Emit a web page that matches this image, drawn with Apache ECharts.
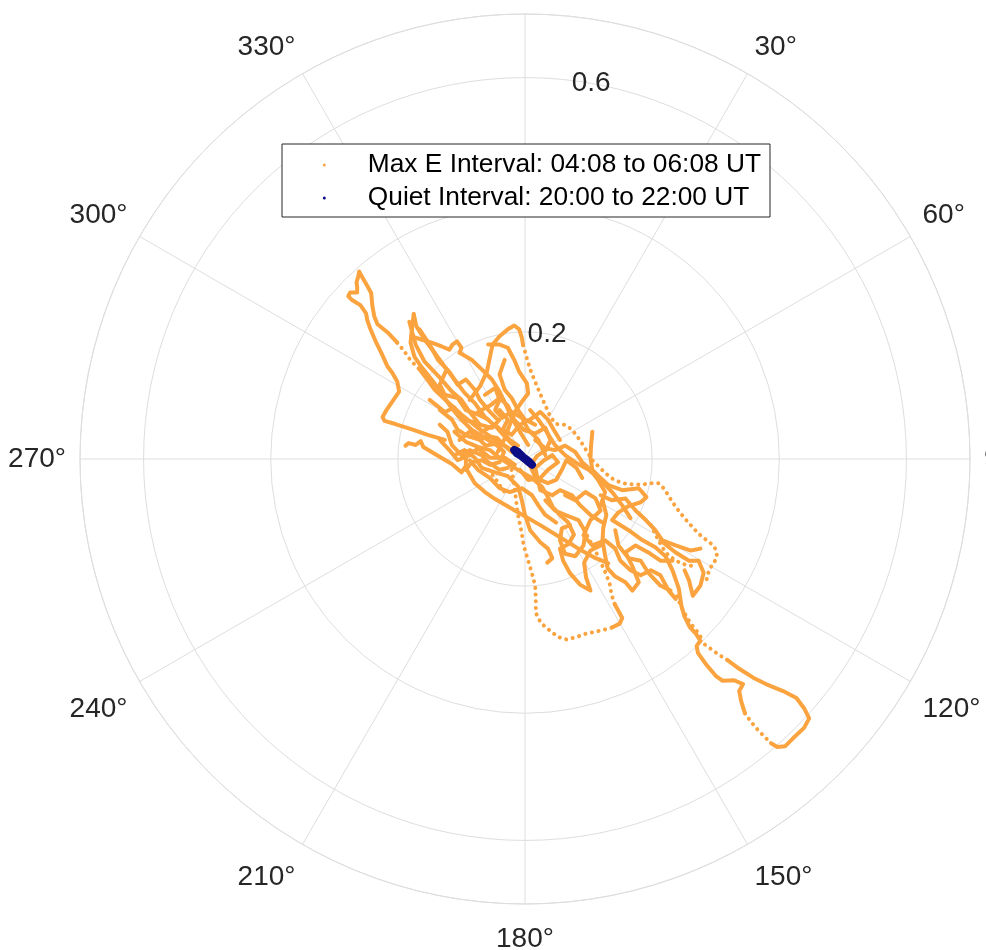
<!DOCTYPE html>
<html>
<head>
<meta charset="utf-8">
<style>
  html, body { margin: 0; padding: 0; background: #ffffff; }
  #chart { width: 986px; height: 950px; }
</style>
<script src="https://cdn.jsdelivr.net/npm/echarts@6/dist/echarts.min.js"></script>
</head>
<body>
<div id="chart"></div>
<script>
// Field direction traces, each point stored as [east, north] components.
// Continuous (densely sampled) sections of the Max E interval.
const maxETracks = [
  [[-0.126,0.030],[-0.153,0.038],[-0.179,0.047],[-0.204,0.055],[-0.221,0.060],[-0.224,0.066],[-0.218,0.077],[-0.209,0.090],[-0.198,0.106],[-0.201,0.122],[-0.209,0.136],[-0.216,0.145],[-0.226,0.167],[-0.234,0.183],[-0.243,0.204],[-0.248,0.218],[-0.250,0.229],[-0.259,0.242],[-0.272,0.250],[-0.278,0.256],[-0.275,0.262],[-0.264,0.262],[-0.264,0.270],[-0.265,0.278],[-0.262,0.288],[-0.261,0.295],[-0.256,0.286],[-0.248,0.272],[-0.242,0.261],[-0.240,0.240],[-0.237,0.224],[-0.232,0.212],[-0.216,0.199],[-0.201,0.183]],
  [[-0.166,0.141],[-0.156,0.128],[-0.142,0.109],[-0.122,0.090],[-0.100,0.070],[-0.074,0.049],[-0.047,0.030],[-0.024,0.016]],
  [[-0.188,0.021],[-0.183,0.025],[-0.172,0.022],[-0.164,0.028],[-0.160,0.019],[-0.137,0.005],[-0.115,-0.008],[-0.100,-0.021],[-0.093,-0.011],[-0.093,0.002],[-0.100,0.011]],
  [[-0.093,-0.014],[-0.079,-0.038],[-0.063,-0.052],[-0.047,-0.063],[-0.016,-0.081],[0.024,-0.104],[0.055,-0.123],[0.084,-0.141],[0.111,-0.156],[0.131,-0.164]],
  [[-0.175,0.228],[-0.177,0.212],[-0.180,0.183],[-0.174,0.161],[-0.163,0.145],[-0.147,0.125],[-0.131,0.104],[-0.119,0.085],[-0.103,0.065],[-0.084,0.046],[-0.058,0.030],[-0.040,0.019]],
  [[-0.175,0.228],[-0.171,0.209],[-0.158,0.188],[-0.142,0.167],[-0.126,0.145],[-0.111,0.125],[-0.095,0.104],[-0.079,0.088],[-0.063,0.066],[-0.044,0.049],[-0.027,0.030],[-0.011,0.014]],
  [[-0.179,0.193],[-0.163,0.188],[-0.147,0.183],[-0.131,0.177],[-0.119,0.172],[-0.114,0.180],[-0.107,0.185],[-0.100,0.175],[-0.103,0.167],[-0.084,0.156],[-0.068,0.141],[-0.052,0.125],[-0.040,0.106],[-0.030,0.085],[-0.021,0.065],[-0.008,0.043],[0.005,0.022]],
  [[-0.182,0.216],[-0.172,0.180],[-0.158,0.153],[-0.134,0.128],[-0.115,0.106],[-0.100,0.093],[-0.087,0.074],[-0.071,0.054],[-0.052,0.049],[-0.040,0.062]],
  [[-0.087,0.093],[-0.071,0.114],[-0.060,0.137],[-0.055,0.161],[-0.051,0.180],[-0.040,0.193],[-0.027,0.204],[-0.017,0.210],[-0.009,0.204],[-0.005,0.191],[-0.003,0.179]],
  [[-0.058,0.180],[-0.040,0.180],[-0.027,0.175],[-0.017,0.156],[-0.009,0.137],[0.003,0.119],[0.005,0.103],[-0.005,0.090],[-0.016,0.074],[-0.024,0.054],[-0.033,0.030],[-0.043,0.011]],
  [[-0.134,0.077],[-0.115,0.062],[-0.106,0.046],[-0.090,0.036],[-0.071,0.030],[-0.058,0.036],[-0.044,0.033],[-0.032,0.021],[-0.021,0.011]],
  [[-0.111,0.043],[-0.093,0.027],[-0.074,0.019],[-0.055,0.014],[-0.040,0.002],[-0.024,-0.009],[-0.005,-0.021],[0.011,-0.030],[0.027,-0.044],[0.036,-0.060],[0.044,-0.076],[0.055,-0.088],[0.068,-0.100],[0.077,-0.119],[0.068,-0.134],[0.055,-0.141],[0.060,-0.160],[0.071,-0.180],[0.087,-0.198],[0.103,-0.207],[0.096,-0.186],[0.093,-0.163],[0.103,-0.144],[0.119,-0.136]],
  [[-0.074,0.074],[-0.055,0.084],[-0.040,0.096],[-0.027,0.084],[-0.017,0.062],[-0.002,0.046],[0.016,0.040],[0.032,0.049],[0.040,0.030],[0.033,0.014],[0.019,0.005],[0.008,-0.011],[0.017,-0.030],[0.036,-0.038],[0.049,-0.033],[0.058,-0.017],[0.065,-0.002],[0.081,-0.014],[0.090,-0.030]],
  [[-0.111,0.006],[-0.095,0.014],[-0.079,0.002],[-0.068,-0.014],[-0.047,-0.021],[-0.027,-0.027],[-0.011,-0.043],[-0.005,-0.065],[0.000,-0.088],[0.008,-0.112],[0.024,-0.131],[0.036,-0.141],[0.043,-0.156],[0.035,-0.163]],
  [[0.008,0.077],[0.021,0.062],[0.032,0.046],[0.047,0.022],[0.063,0.006],[0.079,-0.005],[0.100,-0.017],[0.119,-0.033],[0.137,-0.052],[0.153,-0.073],[0.166,-0.093]],
  [[0.106,0.043],[0.104,0.022],[0.103,0.002],[0.106,-0.017],[0.119,-0.030],[0.131,-0.041],[0.153,-0.049],[0.179,-0.046],[0.191,-0.060],[0.182,-0.068],[0.163,-0.074],[0.147,-0.084],[0.137,-0.096],[0.163,-0.112],[0.185,-0.128],[0.205,-0.139],[0.221,-0.153],[0.232,-0.175],[0.242,-0.204],[0.246,-0.231],[0.251,-0.248],[0.259,-0.264],[0.269,-0.275],[0.276,-0.286]],
  [[0.122,-0.065],[0.128,-0.088],[0.123,-0.109],[0.122,-0.128],[0.126,-0.152],[0.130,-0.172],[0.142,-0.185],[0.158,-0.194],[0.169,-0.207],[0.179,-0.194],[0.169,-0.169],[0.158,-0.147],[0.174,-0.136],[0.194,-0.147],[0.213,-0.160],[0.232,-0.160]],
  [[0.213,-0.128],[0.237,-0.147],[0.258,-0.160],[0.273,-0.160],[0.281,-0.179],[0.276,-0.199],[0.264,-0.215],[0.258,-0.191],[0.251,-0.175]],
  [[0.276,-0.286],[0.270,-0.294],[0.272,-0.305],[0.284,-0.322],[0.300,-0.341],[0.311,-0.349],[0.329,-0.348],[0.343,-0.354],[0.337,-0.365],[0.340,-0.381],[0.346,-0.400]],
  [[0.387,-0.447],[0.397,-0.453],[0.409,-0.452],[0.422,-0.439],[0.439,-0.423],[0.447,-0.408],[0.439,-0.392],[0.427,-0.376],[0.406,-0.365],[0.379,-0.354],[0.359,-0.344],[0.337,-0.330],[0.318,-0.316]],
  [[0.137,-0.265],[0.149,-0.259],[0.153,-0.250],[0.147,-0.239],[0.141,-0.228]],
  [[-0.150,0.093],[-0.126,0.074],[-0.111,0.081],[-0.100,0.062],[-0.079,0.058],[-0.068,0.043],[-0.047,0.054],[-0.035,0.043],[-0.024,0.030],[-0.011,0.021]],
  [[-0.103,0.030],[-0.087,0.043],[-0.074,0.033],[-0.062,0.021],[-0.046,0.024],[-0.033,0.011],[-0.040,-0.005],[-0.055,-0.009],[-0.068,-0.002],[-0.084,-0.005],[-0.093,-0.017]],
  [[-0.008,-0.017],[0.005,-0.033],[0.024,-0.030],[0.036,-0.017],[0.052,-0.005],[0.043,0.006],[0.030,-0.002],[0.016,-0.014],[0.024,-0.049],[0.043,-0.057],[0.055,-0.049],[0.074,-0.057],[0.087,-0.073],[0.103,-0.088],[0.122,-0.100]],
  [[-0.040,0.077],[-0.027,0.062],[-0.035,0.046],[-0.021,0.038],[-0.008,0.054],[0.008,0.062],[0.024,0.074],[0.036,0.062],[0.047,0.043],[0.055,0.030]],
  [[-0.134,0.054],[-0.122,0.043],[-0.115,0.022],[-0.100,0.006],[-0.087,0.014],[-0.068,0.006],[-0.058,-0.005],[-0.040,-0.017],[-0.027,-0.014]],
  [[0.063,-0.057],[0.079,-0.065],[0.095,-0.052],[0.111,-0.062],[0.119,-0.081],[0.103,-0.096],[0.092,-0.120],[0.106,-0.136],[0.126,-0.128],[0.142,-0.141],[0.150,-0.160],[0.166,-0.175],[0.182,-0.183],[0.198,-0.175],[0.213,-0.183],[0.226,-0.207],[0.237,-0.220]],
  [[-0.166,0.204],[-0.150,0.180],[-0.137,0.156],[-0.119,0.137],[-0.106,0.117],[-0.093,0.125],[-0.079,0.109],[-0.071,0.093],[-0.055,0.074],[-0.043,0.062]],
  [[-0.125,0.137],[-0.134,0.117],[-0.126,0.101],[-0.106,0.096],[-0.093,0.077],[-0.074,0.070],[-0.058,0.062]],
  [[-0.032,0.156],[-0.040,0.133],[-0.032,0.109],[-0.021,0.096],[-0.011,0.077],[0.000,0.062],[0.016,0.054]],
  [[0.016,0.030],[0.032,0.017],[0.047,0.014],[0.063,0.021],[0.079,0.011],[0.090,-0.005],[0.103,-0.017],[0.115,-0.033],[0.126,-0.052],[0.119,-0.073]],
  [[0.032,-0.065],[0.047,-0.081],[0.063,-0.088],[0.084,-0.096],[0.095,-0.115],[0.092,-0.136],[0.079,-0.153],[0.063,-0.149],[0.055,-0.128],[0.058,-0.109],[0.071,-0.104]],
  [[-0.087,-0.002],[-0.074,-0.017],[-0.055,-0.030],[-0.040,-0.046],[-0.024,-0.052],[-0.005,-0.046],[0.011,-0.057],[0.021,-0.073],[0.032,-0.088],[0.049,-0.100]],
  [[-0.063,0.101],[-0.047,0.112],[-0.040,0.093],[-0.047,0.077],[-0.036,0.065],[-0.021,0.074],[-0.005,0.065],[0.005,0.046],[0.021,0.030],[0.032,0.006]],
  [[-0.134,0.030],[-0.119,0.014],[-0.106,-0.002],[-0.087,0.006],[-0.074,0.017],[-0.055,0.002],[-0.032,0.002],[-0.016,-0.009]],
  [[0.119,-0.057],[0.137,-0.065],[0.158,-0.062],[0.174,-0.081],[0.190,-0.096],[0.205,-0.112],[0.216,-0.128],[0.237,-0.136],[0.261,-0.144],[0.276,-0.141]],
  [[0.142,-0.112],[0.147,-0.136],[0.163,-0.156],[0.182,-0.160],[0.194,-0.179],[0.213,-0.199],[0.229,-0.207]]
];

// Sparsely sampled sections of the Max E interval (drawn as separate dots).
const maxESparseTracks = [
  [[-0.201,0.183],[-0.191,0.171],[-0.182,0.158],[-0.174,0.149],[-0.166,0.141]],
  [[0.346,-0.400],[0.356,-0.414],[0.367,-0.427],[0.378,-0.438],[0.387,-0.447]],
  [[0.318,-0.316],[0.305,-0.308],[0.294,-0.300],[0.283,-0.292]],
  [[-0.021,-0.017],[-0.017,-0.041],[-0.014,-0.065],[-0.011,-0.088],[-0.006,-0.112],[-0.002,-0.136],[0.005,-0.160],[0.011,-0.180],[0.016,-0.199],[0.017,-0.220],[0.017,-0.242],[0.025,-0.258],[0.038,-0.269],[0.052,-0.280],[0.066,-0.284],[0.081,-0.280],[0.095,-0.275],[0.109,-0.272],[0.123,-0.269],[0.137,-0.265]],
  [[0.141,-0.228],[0.136,-0.213],[0.134,-0.199],[0.128,-0.182],[0.120,-0.164],[0.112,-0.147],[0.103,-0.130],[0.093,-0.112],[0.084,-0.096]],
  [[-0.003,0.179],[0.003,0.158],[0.009,0.139],[0.017,0.119],[0.025,0.100],[0.033,0.082],[0.040,0.066],[0.049,0.055],[0.062,0.054],[0.073,0.047],[0.082,0.036],[0.090,0.024],[0.098,0.011],[0.106,-0.002],[0.115,-0.011],[0.126,-0.022],[0.139,-0.032],[0.153,-0.038],[0.169,-0.040],[0.185,-0.040],[0.201,-0.038],[0.210,-0.038],[0.218,-0.046],[0.224,-0.055],[0.232,-0.068],[0.240,-0.079],[0.250,-0.092],[0.258,-0.101],[0.267,-0.111],[0.276,-0.120],[0.286,-0.128],[0.294,-0.134],[0.300,-0.142],[0.302,-0.152],[0.299,-0.160],[0.294,-0.167],[0.289,-0.177],[0.286,-0.188],[0.284,-0.199]],
  [[-0.058,-0.017],[-0.047,-0.030],[-0.038,-0.044],[-0.028,-0.058]],
  [[0.239,-0.216],[0.245,-0.231],[0.253,-0.246],[0.261,-0.259],[0.272,-0.273],[0.280,-0.286]],
  [[0.198,-0.104],[0.210,-0.128],[0.221,-0.147],[0.237,-0.160],[0.254,-0.167],[0.270,-0.169]]
];

// Quiet interval trace.
const quietTrack = [[-0.017,0.014],[-0.013,0.009],[-0.006,0.005],[0.000,0.000],[0.006,-0.005],[0.011,-0.009],[0.005,-0.003],[-0.003,0.003],[-0.011,0.011],[-0.016,0.014]];

const seriesNames = ['Max E Interval: 04:08 to 06:08 UT', 'Quiet Interval: 20:00 to 22:00 UT'];
const radiusTicks = [0.2, 0.4, 0.6];
const radiusMax = 0.7;
const angleStep = 30;

const ORANGE = '#fba33f';
const NAVY = '#0c0c84';
const GRID = '#dedede';
const TEXT = '#262626';
const FONT = 'Arial, "Liberation Sans", Helvetica, sans-serif';

// [east, north] -> [radius, bearing in degrees clockwise from north]
function toPolar(p) {
  const r = Math.hypot(p[0], p[1]);
  const th = (Math.atan2(p[0], p[1]) * 180 / Math.PI + 360) % 360;
  return [r, th];
}

const series = [];
maxETracks.forEach(function (track) {
  series.push({
    type: 'line', name: seriesNames[0], coordinateSystem: 'polar', polarIndex: 0,
    data: track.map(toPolar), symbol: 'none', showSymbol: false, silent: true, z: 2,
    itemStyle: { color: ORANGE },
    lineStyle: { color: ORANGE, width: 4, join: 'round', cap: 'round' }
  });
});
maxESparseTracks.forEach(function (track) {
  series.push({
    type: 'line', name: seriesNames[0], coordinateSystem: 'polar', polarIndex: 0,
    data: track.map(toPolar), symbol: 'none', showSymbol: false, silent: true, z: 2,
    itemStyle: { color: ORANGE },
    lineStyle: { color: ORANGE, width: 4, type: [0.1, 6.6], cap: 'round' }
  });
});
series.push({
  type: 'line', name: seriesNames[1], coordinateSystem: 'polar', polarIndex: 0,
  data: quietTrack.map(toPolar), symbol: 'none', showSymbol: false, silent: true, z: 3,
  itemStyle: { color: NAVY },
  lineStyle: { color: NAVY, width: 8, join: 'round', cap: 'round' }
});

const chart = echarts.init(document.getElementById('chart'), null, { renderer: 'canvas' });
chart.setOption({
  animation: false,
  backgroundColor: '#ffffff',
  textStyle: { fontFamily: FONT },
  polar: [
    { center: [525, 459], radius: 445 },
    { center: [525, 459], radius: 445 }
  ],
  angleAxis: [
    {
      polarIndex: 0, type: 'value', min: 0, max: 360, interval: angleStep,
      startAngle: 90, clockwise: true,
      axisLine: { show: true, lineStyle: { color: GRID, width: 1 } },
      axisTick: { show: false },
      splitLine: { show: true, lineStyle: { color: GRID, width: 1 } },
      axisLabel: {
        margin: 14, fontSize: 28, color: TEXT, fontFamily: FONT, padding: [7, 0, 0, 0],
        formatter: function (v) { return v >= 360 ? '' : v + '\u00b0'; }
      }
    },
    {
      polarIndex: 1, type: 'value', min: 0, max: 360, startAngle: 80, clockwise: true,
      show: false
    }
  ],
  radiusAxis: [
    {
      polarIndex: 0, type: 'value', min: 0, max: radiusMax, interval: 0.2,
      axisLine: { show: false }, axisTick: { show: false }, axisLabel: { show: false },
      splitLine: { show: true, lineStyle: { color: GRID, width: 1 } }
    },
    {
      polarIndex: 1, type: 'value', min: 0, max: radiusMax, interval: 0.2,
      axisLine: { show: false }, axisTick: { show: false }, splitLine: { show: false },
      axisLabel: {
        show: true, margin: 0, align: 'center', verticalAlign: 'middle',
        fontSize: 28, color: TEXT, fontFamily: FONT,
        formatter: function (v) {
          const val = Math.round(v * 10) / 10;
          return radiusTicks.indexOf(val) >= 0 ? val.toFixed(1) : '';
        }
      }
    }
  ],
  legend: {
    data: seriesNames,
    orient: 'vertical',
    left: 282, top: 144,
    padding: [8, 9, 6, 40.8],
    itemGap: 7,
    itemWidth: 77, itemHeight: 3,
    icon: 'circle',
    backgroundColor: '#ffffff',
    borderColor: '#262626', borderWidth: 1, borderRadius: 0,
    textStyle: { fontSize: 26.3, color: '#000000', fontFamily: FONT },
    selectedMode: false,
    z: 10
  },
  series: series
});
</script>
</body>
</html>
